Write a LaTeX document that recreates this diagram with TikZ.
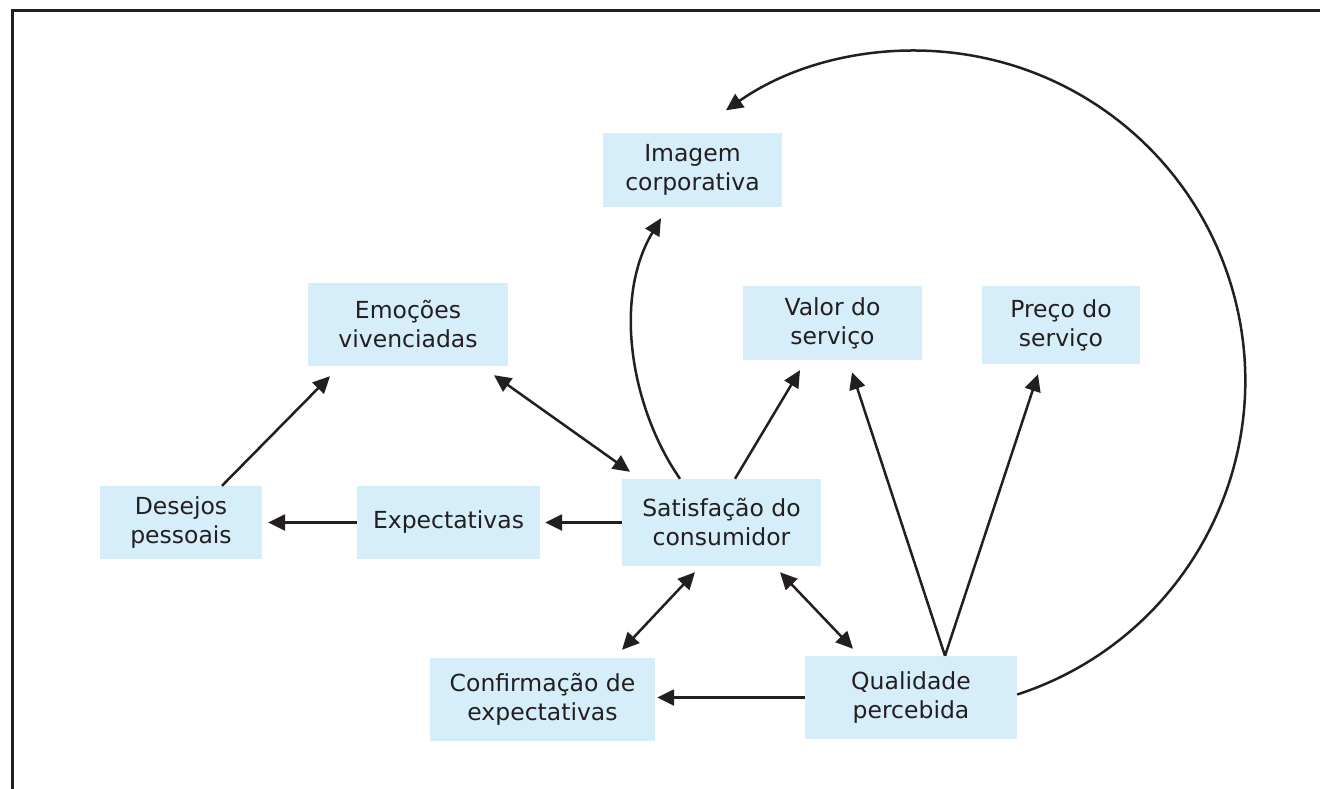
\documentclass[tikz,border=0pt]{standalone}
\usepackage{fontspec}
\setmainfont{DejaVu Sans}
\usetikzlibrary{arrows.meta}
\definecolor{boxfill}{RGB}{214,238,250}
\definecolor{ink}{RGB}{35,31,32}
\begin{document}
\begin{tikzpicture}[x=1pt,y=-1pt,
 box/.style={fill=boxfill, inner sep=0pt, align=center, text=ink, font=\fontsize{23.5}{29}\selectfont},
 arr/.style={draw=ink, line width=2.5pt, -{Triangle[length=17pt,width=16pt]}},
 darr/.style={draw=ink, line width=2.5pt, {Triangle[length=17pt,width=16pt]}-{Triangle[length=17pt,width=16pt]}}]
\useasboundingbox (0,0) rectangle (1320,789);
\draw[ink, line width=3pt] (12,789) -- (12,11) -- (1320,11);

\node[box, minimum width=179pt, minimum height=74pt] (img) at (692.5,170) {Imagem\\corporativa};
\node[box, minimum width=200pt, minimum height=83pt] (emo) at (408,324.5) {Emoções\\vivenciadas};
\node[box, minimum width=179pt, minimum height=74pt] (val) at (832.5,323) {Valor do\\serviço};
\node[box, minimum width=158pt, minimum height=78pt] (pre) at (1061,325) {Preço do\\serviço};
\node[box, minimum width=162pt, minimum height=73pt] (des) at (181,522.5) {Desejos\\pessoais};
\node[box, minimum width=183pt, minimum height=73pt] (exp) at (448.5,522.5) {Expectativas};
\node[box, minimum width=199pt, minimum height=87pt] (sat) at (721.5,522.5) {Satisfação do\\consumidor};
\node[box, minimum width=225pt, minimum height=83pt] (conf) at (542.5,699.5) {Confirmação de\\expectativas};
\node[box, minimum width=212pt, minimum height=83pt] (qual) at (911,697.5) {Qualidade\\percebida};

\draw[arr] ([xshift=41pt]des.north) -- ([xshift=-78pt,yshift=-10pt]emo.south);
\draw[darr] ([xshift=86pt,yshift=-9pt]emo.south) -- ([xshift=-91.5pt,yshift=7pt]sat.north);
\draw[arr] (exp.west) -- ([xshift=6pt]des.east);
\draw[arr] (sat.west) -- ([xshift=5pt]exp.east);
\draw[arr] ([xshift=-41.5pt]sat.north) .. controls (632,410) and (612,300) .. ([xshift=-31.5pt,yshift=-11pt]img.south);
\draw[arr] ([xshift=13.5pt]sat.north) -- ([xshift=-32.5pt,yshift=-10pt]val.south);
\draw[darr] ([xshift=-26.5pt,yshift=-6pt]sat.south) -- ([xshift=79.5pt,yshift=8pt]conf.north);
\draw[darr] ([xshift=58.5pt,yshift=-6pt]sat.south) -- ([xshift=-58pt,yshift=7pt]qual.north);
\draw[arr] (qual.west) -- ([xshift=2pt]qual.west -| conf.east);
\draw[arr] ([xshift=34pt]qual.north) -- ([xshift=19.5pt,yshift=-12pt]val.south);
\draw[arr] ([xshift=34pt]qual.north) -- ([xshift=-23pt,yshift=-10pt]pre.south);
\draw[arr] ([yshift=3pt]qual.east) arc[start angle=72, end angle=-125, radius=330];
\end{tikzpicture}
\end{document}
